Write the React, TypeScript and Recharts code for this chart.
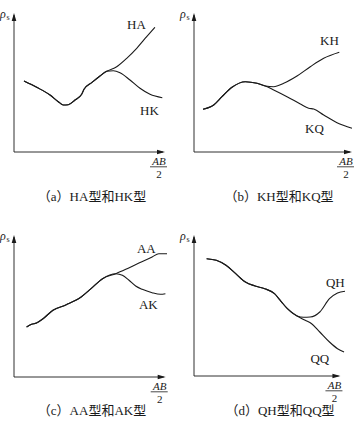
import React from "react";
import { LineChart, Line, XAxis, YAxis, ReferenceDot, ReferenceLine } from "recharts";

type Pt = { x: number; y: number };
const pts = (a: number[][]): Pt[] => a.map(([x, y]) => ({ x, y }));

// (a) HA / HK
const aShared = [[10, 71], [22.7, 64.7], [36, 57], [44.3, 50.3], [49.3, 47], [54.3, 47.3], [61, 52], [67.7, 57.7], [70, 62.7], [77.7, 69.3], [86, 76], [92.7, 80.7]];
const haBranch = [[102.7, 85.3], [112.7, 93.7], [122.7, 103.7], [132.7, 115.3], [141, 124.7]];
const hkBranch = [[99.3, 81.3], [106, 79.3], [116, 72], [126, 63.7], [136, 57.7], [148.3, 54.3]];

// (b) KH / KQ
const bShared = [[9, 42.7], [19.7, 47], [28, 55.3], [38, 64.7], [51.3, 70.3], [63, 68.7], [71.3, 66]];
const khBranch = [[79.7, 65.3], [89.7, 68.7], [103, 76], [116.3, 85.3], [129.7, 93.7], [145.3, 99.7]];
const kqBranch = [[79.7, 62], [93, 55.3], [106.3, 48], [114.7, 43.7], [119.7, 43], [129.7, 37], [143, 29.3], [158, 23.7]];

// (c) AA / AK
const cShared = [[12.7, 50], [17.7, 52.7], [22.7, 54], [29.3, 58.3], [39.3, 66.7], [52.7, 72.3], [67.7, 80], [77.7, 88.3], [89.3, 98.3], [102.7, 103.3]];
const aaBranch = [[112.7, 107.7], [126, 114], [139.3, 120], [146, 123.3], [154.3, 123.3]];
const akBranch = [[109.3, 101.7], [116, 96.7], [122.7, 91], [129.3, 87.7], [139.3, 84.3], [147.7, 82.7], [152.7, 83.3]];

// (d) QH / QQ
const dShared = [[13, 117.3], [23, 115.7], [33, 110.7], [43, 102.3], [53, 94], [63, 90], [73, 87.3], [83, 82.3], [89.7, 74.7], [96.3, 67.3], [106.3, 60]];
const qhBranch = [[113, 58.7], [119.7, 59], [129.7, 64], [139.7, 77.3], [148, 83], [155.7, 84.7]];
const qqBranch = [[114.7, 55.7], [121.3, 52.3], [129.7, 44], [139.7, 34], [148, 27.3], [154.7, 24]];

const captions = ["（a）HA型和HK型", "（b）KH型和KQ型", "（c）AA型和AK型", "（d）QH型和QQ型"];

const SERIF = "'Liberation Serif', 'Times New Roman', 'Noto Sans CJK SC', serif";
const INK = "#1a1a1a";

interface PanelProps {
  left: number;
  top: number;
  ox: number;
  oy: number;
  w: number;
  h: number;
  curves: Pt[][];
  labels: { text: string; x: number; y: number }[];
  caption: string;
  captionX: number;
  captionY: number;
}

// x-axis arrowhead plus the AB/2 fraction below it
const XArrow = (props: any) => {
  const { cx, cy } = props;
  return (
    <g>
      <polygon points={`${cx},${cy} ${cx - 8},${cy - 2.3} ${cx - 8},${cy + 2.3}`} fill={INK} />
      <line x1={cx - 15} x2={cx + 2} y1={cy + 14.8} y2={cy + 14.8} stroke={INK} strokeWidth={0.8} />
      <text x={cx - 6} y={cy + 12.5} textAnchor="middle" fontFamily={SERIF} fontStyle="italic" fontSize={11} fill={INK}>
        AB
      </text>
      <text x={cx - 6} y={cy + 25.5} textAnchor="middle" fontFamily={SERIF} fontSize={11} fill={INK}>
        2
      </text>
    </g>
  );
};

const YArrow = (props: any) => {
  const { cx, cy } = props;
  return (
    <g>
      <polygon points={`${cx},${cy} ${cx - 2.3},${cy + 8} ${cx + 2.3},${cy + 8}`} fill={INK} />
      <text fontFamily={SERIF} fill={INK}>
        <tspan x={cx - 14} y={cy + 5} fontStyle="italic" fontSize={12}>ρ</tspan>
        <tspan x={cx - 7.5} y={cy + 7} fontSize={8}>s</tspan>
      </text>
    </g>
  );
};

const textShape = (text: string) => (props: any) => (
  <text x={props.cx} y={props.cy} fontFamily={SERIF} fontSize={13} fill={INK}>
    {text}
  </text>
);

function Panel(p: PanelProps) {
  const margin = { left: p.ox, top: p.oy - p.h, right: 177 - p.ox - p.w, bottom: 212 - p.oy };
  return (
    <div style={{ position: "absolute", left: p.left, top: p.top, width: 177, height: 212 }}>
      <LineChart width={177} height={212} margin={margin}>
        <XAxis type="number" dataKey="x" domain={[0, p.w]} hide />
        <YAxis type="number" dataKey="y" domain={[0, p.h]} hide />
        <ReferenceLine segment={[{ x: 0, y: 0 }, { x: p.w - 2, y: 0 }]} stroke={INK} strokeWidth={0.9} ifOverflow="visible" />
        <ReferenceLine segment={[{ x: 0, y: 0 }, { x: 0, y: p.h - 2 }]} stroke={INK} strokeWidth={0.9} ifOverflow="visible" />
        {p.curves.map((c, i) => (
          <Line key={i} data={c} dataKey="y" type="monotone" stroke={INK} strokeWidth={1.1} dot={false} isAnimationActive={false} />
        ))}
        <ReferenceDot x={p.w} y={0} r={0} shape={XArrow} ifOverflow="visible" />
        <ReferenceDot x={0} y={p.h} r={0} shape={YArrow} ifOverflow="visible" />
        {p.labels.map((l) => (
          <ReferenceDot key={l.text} x={l.x} y={l.y} r={0} shape={textShape(l.text)} ifOverflow="visible" />
        ))}
      </LineChart>
      <span
        style={{
          position: "absolute",
          left: p.captionX,
          top: p.captionY,
          transform: "translateX(-50%)",
          fontFamily: SERIF,
          fontSize: 13,
          color: INK,
          lineHeight: "13px",
          whiteSpace: "nowrap",
        }}
      >
        {p.caption}
      </span>
    </div>
  );
}

export default function App() {
  return (
    <div style={{ position: "absolute", left: 0, top: 0, width: 354, height: 425, background: "#fff" }}>
      <Panel
        left={0} top={0} ox={14} oy={152} w={151} h={139}
        curves={[pts([...aShared, ...haBranch]), pts([...aShared, ...hkBranch])]}
        labels={[{ text: "HA", x: 113, y: 123 }, { text: "HK", x: 126, y: 37 }]}
        caption={captions[0]} captionX={92} captionY={190}
      />
      <Panel
        left={177} top={0} ox={17} oy={152} w={158} h={139}
        curves={[pts([...bShared, ...khBranch]), pts([...bShared, ...kqBranch])]}
        labels={[{ text: "KH", x: 126, y: 107 }, { text: "KQ", x: 111, y: 19 }]}
        caption={captions[1]} captionX={102} captionY={190}
      />
      <Panel
        left={0} top={212} ox={14} oy={165} w={153} h={142}
        curves={[pts([...cShared, ...aaBranch]), pts([...cShared, ...akBranch])]}
        labels={[{ text: "AA", x: 124, y: 124 }, { text: "AK", x: 126, y: 68 }]}
        caption={captions[2]} captionX={92} captionY={192}
      />
      <Panel
        left={177} top={212} ox={17} oy={164} w={151} h={141}
        curves={[pts([...dShared, ...qhBranch]), pts([...dShared, ...qqBranch])]}
        labels={[{ text: "QH", x: 136, y: 89 }, { text: "QQ", x: 120, y: 13 }]}
        caption={captions[3]} captionX={103} captionY={192}
      />
    </div>
  );
}
